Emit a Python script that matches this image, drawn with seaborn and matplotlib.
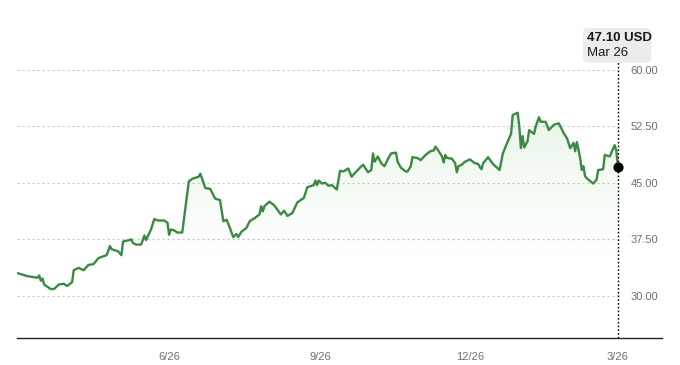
import numpy as np
import pandas as pd
import matplotlib
matplotlib.use("Agg")
import matplotlib.pyplot as plt
from matplotlib.patches import FancyBboxPatch
import seaborn as sns

sns.set_style("white")
plt.rcParams['font.family'] = ['Liberation Sans', 'DejaVu Sans']

# 数据：距 2024-03-26 的天数 与 收盘价 (USD)
start = pd.Timestamp("2024-03-26")
day_offsets = [0, 6, 9, 12, 13, 14, 15, 16, 20, 22, 25, 28, 30, 33, 34, 37, 40, 43, 46, 49,
               54, 56, 57, 61, 63, 64, 68, 69, 70, 72, 75, 77, 78, 81, 83, 85, 89, 91, 92, 93,
               95, 97, 100, 104, 106, 107, 110, 111, 112, 114, 117, 120, 123, 125, 127, 129, 131, 133, 134, 136,
               139, 141, 144, 147, 148, 149, 150, 153, 156, 160, 162, 164, 167, 170, 174, 176, 180, 181, 182, 183,
               185, 187, 189, 191, 194, 196, 198, 201, 203, 205, 209, 210, 213, 215, 216, 217, 219, 221, 223, 225,
               227, 230, 231, 233, 236, 237, 239, 240, 243, 245, 248, 251, 253, 254, 256, 258, 259, 260, 261, 264,
               266, 267, 268, 270, 272, 275, 278, 280, 281, 282, 283, 286, 289, 293, 295, 298, 300, 301, 304, 305,
               306, 307, 308, 310, 311, 312, 314, 315, 317, 318, 321, 323, 326, 329, 330, 332, 334, 336, 338, 339,
               340, 341, 342, 343, 344, 345, 346, 350, 352, 353, 356, 357, 360, 363, 364, 365]
prices = [33.0, 32.6, 32.5, 32.4, 32.7, 32.0, 32.3, 31.5, 30.9, 30.9, 31.5, 31.6, 31.3, 31.8, 33.4, 33.7, 33.4, 34.1, 34.2, 35.0,
          35.4, 36.6, 36.2, 35.9, 35.4, 37.2, 37.4, 37.5, 37.0, 36.8, 36.8, 38.0, 37.4, 38.8, 40.2, 40.0, 40.0, 39.7, 38.1, 38.8,
          38.7, 38.4, 38.4, 45.2, 45.5, 45.6, 45.8, 46.2, 45.6, 44.3, 44.2, 42.9, 42.7, 39.9, 40.1, 39.0, 37.8, 38.2, 37.8, 38.5,
          39.0, 39.9, 40.3, 40.8, 41.9, 41.2, 41.9, 42.5, 42.0, 40.8, 41.3, 40.6, 41.0, 42.4, 43.0, 44.4, 44.7, 45.3, 44.7, 45.3,
          44.9, 45.0, 44.6, 44.7, 44.1, 46.6, 46.5, 46.9, 45.8, 46.3, 47.2, 47.4, 46.4, 46.7, 48.9, 47.8, 48.5, 47.6, 47.2, 48.1,
          48.9, 49.0, 47.8, 47.0, 46.5, 46.5, 47.2, 48.4, 48.3, 48.0, 48.7, 49.2, 49.3, 49.8, 49.2, 48.5, 47.7, 48.7, 48.3, 48.2,
          47.6, 46.4, 47.2, 47.4, 47.8, 48.1, 47.6, 47.5, 47.1, 46.8, 47.6, 48.4, 47.5, 46.7, 48.9, 50.5, 51.5, 54.0, 54.3, 52.5,
          49.6, 51.2, 49.7, 50.5, 52.0, 51.8, 51.5, 52.5, 53.7, 53.1, 53.1, 52.0, 52.7, 52.9, 52.5, 51.6, 50.9, 49.6, 50.3, 49.2,
          50.4, 49.4, 48.3, 46.7, 47.2, 45.9, 45.6, 44.9, 45.4, 46.7, 46.8, 48.7, 48.5, 50.0, 49.3, 47.1]
y_ticks = [30.0, 37.5, 45.0, 52.5, 60.0]
x_tick_dates = ["2024-06-26", "2024-09-26", "2024-12-26", "2025-03-26"]
x_tick_labels = ["6/26", "9/26", "12/26", "3/26"]
last_price_label = "47.10 USD"
last_date_label = "Mar 26"

df = pd.DataFrame({"date": start + pd.to_timedelta(day_offsets, unit="D"), "price": prices})
last_date = df["date"].iloc[-1]
last_price = df["price"].iloc[-1]

line_color = "#3b8a43"

fig = plt.figure(figsize=(6.8, 3.65), dpi=100)
ax = fig.add_axes([0.025, 0.074, 0.949, 0.871])

xmin = start - pd.Timedelta(days=0.5)
xmax = start + pd.Timedelta(days=392)
ax.set_xlim(xmin, xmax)
ax.set_ylim(24.4, 66.6)

# 网格线（只画到最后一个日期）
for v in y_ticks:
    ax.hlines(v, xmin, last_date, colors="#c8c8c8", linestyles=(0, (2, 2.5)), linewidth=0.8, zorder=1)

# 渐变填充
x_num = matplotlib.dates.date2num(df["date"])
poly = ax.fill_between(df["date"], df["price"], 24.4, color="none", lw=0)
grad = np.linspace(0, 1, 256)
rgba = np.zeros((256, 1, 4))
rgba[:, 0, :3] = matplotlib.colors.to_rgb("#79c277")
rgba[:, 0, 3] = np.clip((grad - 0.1) / 0.9, 0, 1) ** 1.2 * 0.17
img = ax.imshow(rgba, aspect="auto", origin="lower",
                extent=[x_num.min(), x_num.max(), 32.0, 54.5], zorder=1)
img.set_clip_path(poly.get_paths()[0], transform=ax.transData)
ax.set_xlim(xmin, xmax)
ax.set_ylim(24.4, 66.6)

sns.lineplot(data=df, x="date", y="price", ax=ax, color=line_color, linewidth=1.7, zorder=3)

# 最新价标记 与 竖虚线
ax.vlines(last_date, 24.4, 61.0, colors="black", linestyles=(0, (1.2, 1.5)), linewidth=1.0, zorder=4)
ax.scatter([last_date], [last_price], s=40, color="black", zorder=5)

# 提示框
box = FancyBboxPatch((0.877, 0.866), 0.106, 0.109, transform=ax.transAxes,
                     boxstyle="round,pad=0,rounding_size=0.008", mutation_aspect=2.0,
                     fc="#ececec", ec="none", zorder=6, clip_on=False)
ax.add_patch(box)
tx = last_date - pd.Timedelta(days=19)
ax.text(tx, 64.2, last_price_label, fontsize=9.5, color="#1a1a1a", fontweight="bold",
        ha="left", va="center", zorder=7)
ax.text(tx, 62.2, last_date_label, fontsize=9.5, color="#1a1a1a",
        ha="left", va="center", zorder=7)

ax.set_yticks(y_ticks)
ax.set_yticklabels([f"{v:.2f}" for v in y_ticks])
ax.yaxis.tick_right()
ax.tick_params(axis="y", length=0, pad=-3, labelsize=8, labelcolor="#6e6e6e")
for lab in ax.get_yticklabels():
    lab.set_horizontalalignment("right")

ax.set_xticks(pd.to_datetime(x_tick_dates))
ax.set_xticklabels(x_tick_labels)
ax.tick_params(axis="x", length=4, width=0.8, color="#333333", pad=6, labelsize=8, labelcolor="#6e6e6e")

for s in ["top", "left", "right"]:
    ax.spines[s].set_visible(False)
ax.spines["bottom"].set_color("#222222")
ax.spines["bottom"].set_linewidth(1.0)
ax.set_xlabel("")
ax.set_ylabel("")

fig.savefig("out.png", dpi=100)
